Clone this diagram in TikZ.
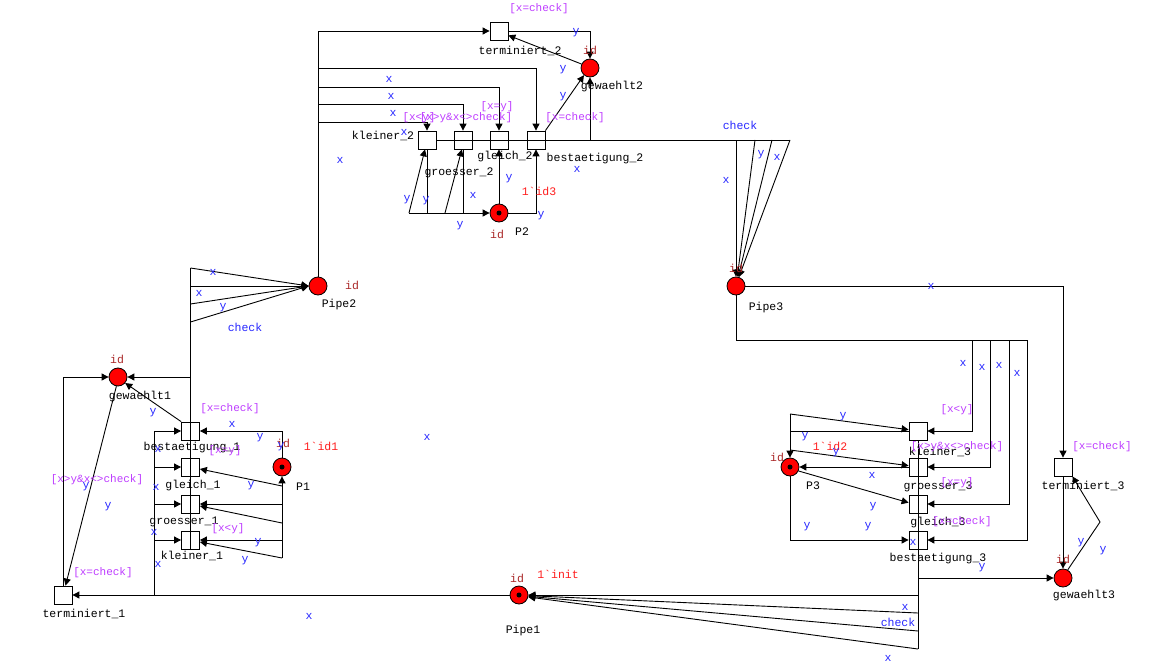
\documentclass[tikz,border=0pt]{standalone}
\usepackage{fontspec}
\setmainfont{Liberation Mono}
\usetikzlibrary{arrows.meta,calc}
\definecolor{inscr}{RGB}{40,40,255}
\definecolor{guard}{RGB}{190,60,255}
\definecolor{markc}{RGB}{255,30,30}
\definecolor{idc}{RGB}{170,40,40}
\definecolor{placered}{RGB}{255,0,0}
\begin{document}
\begin{tikzpicture}[x=1pt,y=-1pt,
  place/.style={circle,draw=black,fill=placered,minimum size=18pt,inner sep=0pt,line width=0.8pt},
  trans/.style={rectangle,draw=black,fill=white,minimum size=18pt,inner sep=0pt,line width=0.8pt},
  tok/.style={circle,fill=black,inner sep=0pt,minimum size=5pt},
  nm/.style={font=\fontsize{11.5}{12}\selectfont,text=black,inner sep=0pt},
  ins/.style={font=\fontsize{11.5}{12}\selectfont,text=inscr,inner sep=0pt},
  grd/.style={font=\fontsize{11}{12}\selectfont,text=guard,inner sep=0pt},
  mrk/.style={font=\fontsize{11.5}{12}\selectfont,text=markc,inner sep=0pt},
  pid/.style={font=\fontsize{11.5}{12}\selectfont,text=idc,inner sep=0pt},
  ln/.style={line width=0.9pt},
  arr/.style={ln,-{Triangle[length=7pt,width=7pt]}}]
\fill[white] (0,0) rectangle (1174,669);
\useasboundingbox (0,0) rectangle (1174,669);

% places
\node[place] (gew1) at (118,377) {};
\node[place] (P1) at (282,467) {};
\node[place] (Pipe2) at (318,286) {};
\node[place] (P2) at (499,213) {};
\node[place] (gew2) at (590,68) {};
\node[place] (Pipe3) at (736,286) {};
\node[place] (P3) at (790,467) {};
\node[place] (gew3) at (1063,578) {};
\node[place] (Pipe1) at (519,595) {};
\node[tok] (tP1) at (P1) {};
\node[tok] (tP2) at (P2) {};
\node[tok] (tP3) at (P3) {};
\node[tok] (tPipe1) at (Pipe1) {};

% transitions
\node[trans] (ter1) at (63,595) {};
\node[trans] (be1) at (190.5,431) {};
\node[trans] (gl1) at (190.5,467) {};
\node[trans] (gr1) at (190.5,504) {};
\node[trans] (kl1) at (190.5,540) {};
\node[trans] (ter2) at (499,31) {};
\node[trans] (kl2) at (427,140) {};
\node[trans] (gr2) at (463,140) {};
\node[trans] (gl2) at (499,140) {};
\node[trans] (be2) at (536,140) {};
\node[trans] (kl3) at (918,431) {};
\node[trans] (gr3) at (918,467) {};
\node[trans] (gl3) at (918,504) {};
\node[trans] (be3) at (918,540) {};
\node[trans] (ter3) at (1063,467) {};

% ---- top part
\coordinate (a1) at (318,68);
\coordinate (a2) at (318,87);
\coordinate (a3) at (318,104);
\coordinate (a4) at (318,122);
\draw[arr] (Pipe2.north) |- (ter2.west);
\draw[arr] (a1) -| (be2.north);
\draw[arr] (a2) -| (gl2.north);
\draw[arr] (a3) -| (gr2.north);
\draw[arr] (a4) -| (kl2.north);
\draw[arr] (ter2.east) -| (gew2.north);
\draw[arr] (gew2.155) -- (ter2.-25);
\draw[arr] (be2.north east) -- (gew2.230);
\draw[arr] (gew2 |- be2) -- (gew2.south);
\coordinate (f1) at (736,140);
\coordinate (f2) at (755,140);
\coordinate (f3) at (772,140);
\coordinate (f4) at (790,140);
\draw[ln] (kl2.east) -- (f4);
\draw[arr] (f1) -- (Pipe3.north);
\draw[arr] (f2) -- (Pipe3.82);
\draw[arr] (f3) -- (Pipe3.77);
\draw[arr] (f4) -- (Pipe3.72);
\coordinate (q1) at (409,213);
\coordinate (q2) at (445,213);
\draw[arr] (q1) -- (P2.west);
\draw[arr] (q1) -- (kl2.-102);
\draw[ln] (kl2.south) -- (kl2 |- P2);
\draw[arr] (q2) -- (gr2.-97);
\draw[ln] (gr2.south) -- (gr2 |- P2);
\draw[arr] (P2.north) -- (gl2.south);
\draw[arr] (P2.east) -| (be2.south);

% ---- left part
\coordinate (l1) at (190.5,268);
\coordinate (l2) at (190.5,286);
\coordinate (l3) at (190.5,304);
\coordinate (l4) at (190.5,322);
\draw[arr] (l1) -- (Pipe2.west);
\draw[arr] (l2) -- (Pipe2.west);
\draw[arr] (l3) -- (Pipe2.west);
\draw[arr] (l4) -- (Pipe2.west);
\draw[ln] (l1) -- (kl1.south);
\draw[arr] (gew1 -| l1) -- (gew1.east);
\draw[arr] (ter1.north) |- (gew1.west);
\draw[arr] (gew1.260) -- (ter1.75);
\draw[arr] (be1.north west) -- (gew1.-40);
\draw[arr] (Pipe1.west) -- (ter1.east);
\coordinate (v1) at (154,595);
\draw[arr] (v1) |- (be1.west);
\draw[arr] (v1) |- (gl1.west);
\draw[arr] (v1) |- (gr1.west);
\draw[arr] (v1) |- (kl1.west);
\coordinate (r1) at (282,486);
\coordinate (r2) at (282,523);
\coordinate (r3) at (282,558);
\draw[arr] (P1.north) |- (be1.east);
\draw[arr] (r1) -- (gl1.-12);
\draw[arr] (P1 |- gr1) -- (gr1.east);
\draw[arr] (r2) -- (gr1.-12);
\draw[arr] (P1 |- kl1) -- (kl1.east);
\draw[arr] (r3) -- (kl1.-12);
\draw[arr] (r3) -- (P1.south);

% ---- right part
\coordinate (s1) at (972,340);
\coordinate (s2) at (990,340);
\coordinate (s3) at (1009,340);
\coordinate (s4) at (1027,340);
\draw[ln] (Pipe3.south) |- (s4);
\draw[arr] (s1) |- (kl3.east);
\draw[arr] (s2) |- (gr3.east);
\draw[arr] (s3) |- (gl3.east);
\draw[arr] (s4) |- (be3.east);
\draw[arr] (Pipe3.east) -| (ter3.north);
\draw[arr] (ter3.south) -- (gew3.north);
\coordinate (z1) at (1100,522);
\draw[arr] (gew3.60) -- (z1) -- (ter3.south east);
\coordinate (e1) at (918,595);
\coordinate (e2) at (918,613);
\coordinate (e3) at (918,631);
\coordinate (e4) at (918,649);
\draw[ln] (kl3.south) -- (e4);
\draw[arr] (e1) -- (Pipe1.east);
\draw[arr] (e2) -- (Pipe1.-4);
\draw[arr] (e3) -- (Pipe1.-8);
\draw[arr] (e4) -- (Pipe1.-12);
\coordinate (bg) at (918,578);
\draw[arr] (bg) -- (gew3.west);
\coordinate (t0) at (790,414);
\coordinate (t1) at (790,450);
\draw[arr] (t0) -- (kl3.172);
\draw[ln] (t0) -- (P3 |- kl3);
\draw[arr] (kl3.west) -| (P3.north);
\draw[arr] (t1) -- (gr3.172);
\draw[arr] (gr3.west) -- (P3.east);
\draw[arr] (P3.-25) -- (gl3.172);
\draw[arr] (P3.south) |- (be3.west);

% ---- names
\node[nm] (n1) at (520,51) {terminiert\_2};
\node[nm] (n2) at (612,87) {gewaehlt2};
\node[nm] (n3) at (383,136) {kleiner\_2};
\node[nm] (n4) at (459,173) {groesser\_2};
\node[nm] (n5) at (505,157) {gleich\_2};
\node[nm] (n6) at (595,159) {bestaetigung\_2};
\node[nm] (n7) at (522,232) {P2};
\node[nm] (n8) at (339,305) {Pipe2};
\node[nm] (n9) at (766,308) {Pipe3};
\node[nm] (n10) at (140,397) {gewaehlt1};
\node[nm] (n11) at (192,448) {bestaetigung\_1};
\node[nm] (n12) at (193,486) {gleich\_1};
\node[nm] (n13) at (184,522) {groesser\_1};
\node[nm] (n14) at (192,556) {kleiner\_1};
\node[nm] (n15) at (303,487) {P1};
\node[nm] (n16) at (84,614) {terminiert\_1};
\node[nm] (n17) at (523,631) {Pipe1};
\node[nm] (n18) at (940,452) {kleiner\_3};
\node[nm] (n19) at (938,487) {groesser\_3};
\node[nm] (n20) at (938,523) {gleich\_3};
\node[nm] (n21) at (938,559) {bestaetigung\_3};
\node[nm] (n22) at (813,486) {P3};
\node[nm] (n23) at (1083,486) {terminiert\_3};
\node[nm] (n24) at (1084,596) {gewaehlt3};

% ---- id labels
\node[pid] (i1) at (590,50) {id};
\node[pid] (i2) at (497,234) {id};
\node[pid] (i3) at (352,285) {id};
\node[pid] (i4) at (736,268) {id};
\node[pid] (i5) at (117,359) {id};
\node[pid] (i6) at (283,443) {id};
\node[pid] (i7) at (777,457) {id};
\node[pid] (i8) at (1063,559) {id};
\node[pid] (i9) at (517,578) {id};

% ---- initial markings
\node[mrk] (m1) at (539,191) {1\textasciigrave id3};
\node[mrk] (m2) at (321,446) {1\textasciigrave id1};
\node[mrk] (m3) at (830,446) {1\textasciigrave id2};
\node[mrk] (m4) at (558,574) {1\textasciigrave init};

% ---- guards
\node[grd] (g1) at (539,9) {[x=check]};
\node[grd] (g2) at (419,118) {[x<y]};
\node[grd] (g3) at (466,118) {[x>y\&x<>check]};
\node[grd] (g4) at (497,107) {[x=y]};
\node[grd] (g5) at (575,118) {[x=check]};
\node[grd] (g6) at (230,409) {[x=check]};
\node[grd] (g7) at (225,451) {[x=y]};
\node[grd] (g8) at (228,529) {[x<y]};
\node[grd] (g9) at (97,480) {[x>y\&x<>check]};
\node[grd] (g10) at (103,573) {[x=check]};
\node[grd] (g11) at (957,410) {[x<y]};
\node[grd] (g12) at (957,447) {[x>y\&x<>check]};
\node[grd] (g13) at (957,483) {[x=y]};
\node[grd] (g14) at (962,522) {[x=check]};
\node[grd] (g15) at (1102,447) {[x=check]};

% ---- inscriptions
\node[ins] (b1) at (576,33) {y};
\node[ins] (b2) at (563,70) {y};
\node[ins] (b3) at (563,97) {y};
\node[ins] (b4) at (389,79) {x};
\node[ins] (b5) at (391,96) {x};
\node[ins] (b6) at (393,113) {x};
\node[ins] (b7) at (404,132) {x};
\node[ins] (b8) at (340,160) {x};
\node[ins] (b9) at (577,169) {x};
\node[ins] (b10) at (407,200) {y};
\node[ins] (b11) at (426,201) {y};
\node[ins] (b12) at (473,195) {x};
\node[ins] (b13) at (460,226) {y};
\node[ins] (b14) at (509,179) {y};
\node[ins] (b15) at (541,216) {y};
\node[ins] (b16) at (740,125) {check};
\node[ins] (b17) at (726,180) {x};
\node[ins] (b18) at (761,155) {y};
\node[ins] (b19) at (777,157) {x};
\node[ins] (b20) at (931,286) {x};
\node[ins] (b21) at (213,272) {x};
\node[ins] (b22) at (199,293) {x};
\node[ins] (b23) at (223,308) {y};
\node[ins] (b24) at (245,327) {check};
\node[ins] (b25) at (153,413) {y};
\node[ins] (b26) at (232,424) {x};
\node[ins] (b27) at (260,438) {y};
\node[ins] (b28) at (281,447) {y};
\node[ins] (b29) at (251,486) {y};
\node[ins] (b30) at (258,543) {y};
\node[ins] (b31) at (245,561) {y};
\node[ins] (b32) at (86,487) {y};
\node[ins] (b33) at (108,507) {y};
\node[ins] (b34) at (156,487) {x};
\node[ins] (b35) at (154,532) {x};
\node[ins] (b36) at (158,564) {x};
\node[ins] (b37) at (158,449) {x};
\node[ins] (b38) at (309,616) {x};
\node[ins] (b39) at (427,437) {x};
\node[ins] (b40) at (963,363) {x};
\node[ins] (b41) at (982,367) {x};
\node[ins] (b42) at (999,365) {x};
\node[ins] (b43) at (1017,373) {x};
\node[ins] (b44) at (843,417) {y};
\node[ins] (b45) at (805,437) {y};
\node[ins] (b46) at (836,453) {y};
\node[ins] (b47) at (872,475) {x};
\node[ins] (b48) at (873,507) {y};
\node[ins] (b49) at (807,527) {y};
\node[ins] (b50) at (868,527) {y};
\node[ins] (b51) at (913,542) {x};
\node[ins] (b52) at (982,568) {y};
\node[ins] (b53) at (1081,543) {y};
\node[ins] (b54) at (1103,551) {y};
\node[ins] (b55) at (905,607) {x};
\node[ins] (b56) at (898,622) {check};
\node[ins] (b57) at (888,658) {x};
\end{tikzpicture}
\end{document}
